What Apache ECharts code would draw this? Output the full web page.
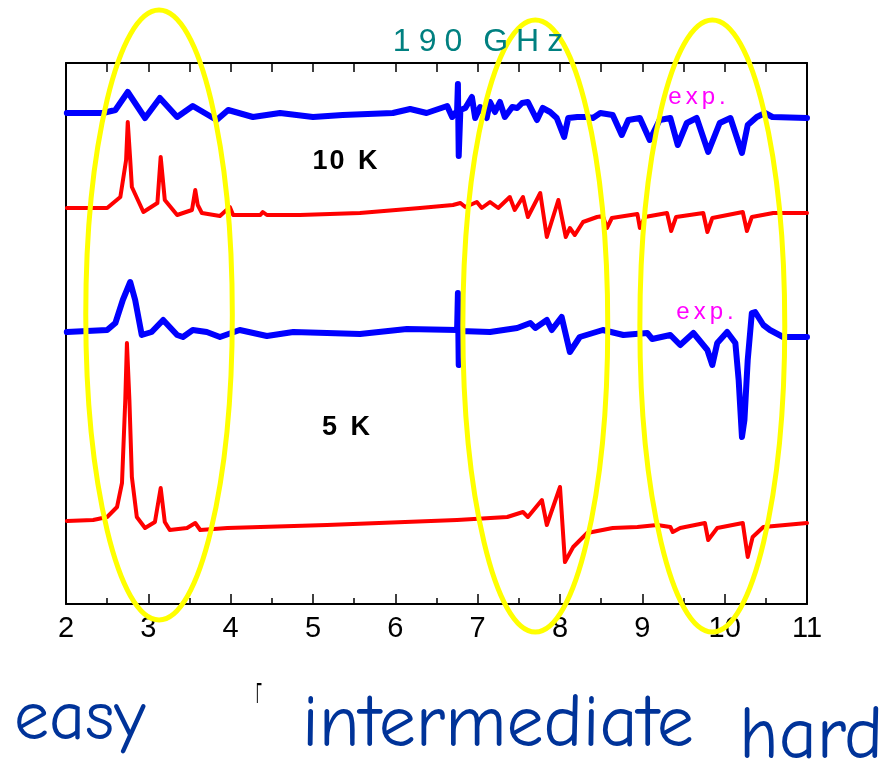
<!DOCTYPE html>
<html>
<head>
<meta charset="utf-8">
<script src="https://cdn.jsdelivr.net/npm/echarts@6/dist/echarts.min.js"></script>
<style>html,body{margin:0;padding:0;background:#fff}#c{width:888px;height:762px}</style>
</head>
<body>
<div id="c"></div>
<script>
// Magnetic field (T) on x; signal (arb. u., offset traces) on y
const xTicks = [2, 3, 4, 5, 6, 7, 8, 9, 10, 11];

const blue10K = [[2.01,4.91],[2.45,4.91],[2.60,4.94],[2.75,5.12],[2.96,4.86],[3.14,5.06],[3.35,4.87],[3.54,4.98],[3.83,4.84],[3.97,4.94],[4.27,4.87],[4.60,4.91],[5.00,4.87],[5.36,4.89],[5.97,4.91],[6.18,4.95],[6.38,4.91],[6.63,4.98],[6.69,4.87],[6.75,4.93],[6.76,5.20],[6.77,4.48],[6.79,4.94],[6.85,4.96],[6.93,5.07],[6.97,4.86],[7.03,4.97],[7.11,4.86],[7.15,5.02],[7.21,4.92],[7.27,5.02],[7.33,4.87],[7.42,4.97],[7.48,4.96],[7.54,5.01],[7.61,5.02],[7.72,4.84],[7.79,4.96],[7.88,4.92],[7.96,4.86],[8.05,4.67],[8.10,4.86],[8.21,4.87],[8.33,4.87],[8.40,4.86],[8.49,4.91],[8.64,4.89],[8.75,4.69],[8.83,4.84],[8.97,4.86],[9.09,4.64],[9.21,4.84],[9.34,4.86],[9.43,4.59],[9.54,4.81],[9.66,4.86],[9.80,4.52],[9.94,4.81],[10.07,4.86],[10.21,4.51],[10.28,4.79],[10.39,4.87],[10.49,4.91],[10.58,4.87],[11.00,4.86]];

const red10K = [[2.01,3.96],[2.50,3.96],[2.66,4.07],[2.73,4.44],[2.75,4.82],[2.78,4.44],[2.80,4.17],[2.94,3.92],[3.11,4.01],[3.15,4.47],[3.20,4.04],[3.35,3.89],[3.53,3.94],[3.57,4.14],[3.60,3.99],[3.65,3.91],[3.87,3.88],[3.99,3.97],[4.03,3.89],[4.36,3.89],[4.39,3.92],[4.44,3.89],[4.84,3.89],[5.57,3.91],[6.30,3.96],[6.70,3.99],[6.79,4.01],[6.85,3.97],[6.99,4.02],[7.05,3.96],[7.15,4.02],[7.25,3.96],[7.39,4.07],[7.45,3.94],[7.55,4.07],[7.61,3.87],[7.76,4.11],[7.84,3.67],[7.98,4.04],[8.07,3.67],[8.12,3.76],[8.18,3.69],[8.28,3.82],[8.45,3.87],[8.52,3.88],[8.57,3.76],[8.63,3.86],[8.94,3.90],[8.97,3.76],[9.03,3.87],[9.30,3.91],[9.35,3.73],[9.41,3.87],[9.74,3.91],[9.79,3.72],[9.85,3.86],[10.22,3.92],[10.27,3.73],[10.33,3.87],[10.59,3.91],[11.00,3.91]];

const blue5K = [[2.01,2.72],[2.50,2.74],[2.60,2.81],[2.69,3.04],[2.78,3.22],[2.84,3.04],[2.92,2.69],[3.04,2.72],[3.18,2.84],[3.35,2.69],[3.42,2.67],[3.54,2.74],[3.71,2.72],[3.87,2.67],[4.11,2.74],[4.44,2.68],[4.76,2.72],[5.17,2.71],[5.57,2.70],[6.14,2.75],[6.75,2.74],[6.76,3.11],[6.77,2.39],[6.79,2.73],[7.15,2.72],[7.48,2.76],[7.64,2.81],[7.70,2.76],[7.84,2.84],[7.90,2.74],[8.02,2.87],[8.12,2.52],[8.24,2.67],[8.52,2.74],[8.77,2.69],[9.06,2.71],[9.12,2.65],[9.34,2.69],[9.46,2.59],[9.62,2.71],[9.79,2.54],[9.85,2.39],[9.91,2.61],[10.03,2.72],[10.13,2.61],[10.17,2.24],[10.21,1.67],[10.24,1.84],[10.28,2.44],[10.33,2.91],[10.37,2.92],[10.47,2.79],[10.55,2.74],[10.71,2.67],[11.00,2.67]];

const red5K = [[2.01,0.83],[2.33,0.84],[2.50,0.87],[2.62,0.97],[2.68,1.21],[2.72,2.04],[2.74,2.61],[2.77,2.04],[2.80,1.27],[2.86,0.87],[2.96,0.76],[3.08,0.82],[3.15,1.16],[3.20,0.82],[3.26,0.74],[3.47,0.76],[3.57,0.81],[3.63,0.74],[3.96,0.76],[5.17,0.79],[6.75,0.84],[7.36,0.87],[7.55,0.92],[7.61,0.87],[7.78,1.04],[7.84,0.79],[8.00,1.17],[8.06,0.42],[8.16,0.57],[8.33,0.71],[8.64,0.76],[8.94,0.77],[9.18,0.79],[9.34,0.77],[9.37,0.72],[9.46,0.76],[9.76,0.81],[9.80,0.64],[9.91,0.76],[10.22,0.81],[10.28,0.47],[10.34,0.67],[10.47,0.77],[11.00,0.81]];

// highlighted field regions (center x, center y, half-width, half-height in data units)
const regionNames = ['easy', 'intermediate', 'hard'];
const regionEllipses = [[3.13, 2.89, 0.89, 3.05], [7.70, 2.78, 0.88, 3.06], [9.85, 2.78, 0.88, 3.06]];

const chart = echarts.init(document.getElementById('c'), null, {renderer: 'canvas'});

function spaced(s, cls) {
  return s.split('').map(c => c === ' ' ? '{' + cls + 's| }' : '{' + cls + '|' + c + '}').join('');
}

const lineSeries = (data, color, width) => ({
  type: 'line', data: data, showSymbol: false, symbol: 'none', smooth: false,
  lineStyle: {color: color, width: width, cap: 'round', join: 'round'},
  z: 3, silent: true
});

chart.setOption({
  animation: false,
  backgroundColor: '#ffffff',
  grid: {left: 66, right: 81, top: 63, bottom: 158, containLabel: false},
  xAxis: [{
    type: 'value', min: 2, max: 11, interval: 1, position: 'bottom',
    axisLine: {show: true, onZero: false, lineStyle: {color: '#000', width: 2}},
    axisTick: {show: true, inside: true, length: 10, lineStyle: {color: '#000', width: 1.5}},
    minorTick: {show: true, splitNumber: 2, length: 6, lineStyle: {color: '#000', width: 1.5}},
    splitLine: {show: false},
    axisLabel: {show: true, color: '#000', fontSize: 29, fontFamily: 'Liberation Sans', margin: 10,
      formatter: v => xTicks.indexOf(v) >= 0 ? String(v) : ''}
  }, {
    type: 'value', min: 2, max: 11, interval: 0.5, position: 'top',
    axisLine: {show: true, onZero: false, lineStyle: {color: '#000', width: 2}},
    axisTick: {show: true, inside: true, length: 9, lineStyle: {color: '#000', width: 1.5}},
    splitLine: {show: false}, axisLabel: {show: false}
  }],
  yAxis: [{
    type: 'value', min: 0, max: 5.41, position: 'left',
    axisLine: {show: true, onZero: false, lineStyle: {color: '#000', width: 2}},
    axisTick: {show: false}, axisLabel: {show: false}, splitLine: {show: false}
  }, {
    type: 'value', min: 0, max: 5.41, position: 'right',
    axisLine: {show: true, onZero: false, lineStyle: {color: '#000', width: 2}},
    axisTick: {show: false}, axisLabel: {show: false}, splitLine: {show: false}
  }],
  series: [
    lineSeries(blue10K, '#0000ff', 6),
    lineSeries(red10K, '#ff0000', 4),
    lineSeries(blue5K, '#0000ff', 6),
    lineSeries(red5K, '#ff0000', 4)
  ]
});

// annotations
const g = [];
regionEllipses.forEach(e => {
  const c = chart.convertToPixel({gridIndex: 0}, [e[0], e[1]]);
  const p = chart.convertToPixel({gridIndex: 0}, [e[0] + e[2], e[1] + e[3]]);
  g.push({type: 'ellipse', z: 100, silent: true,
    shape: {cx: c[0], cy: c[1], rx: Math.abs(p[0] - c[0]), ry: Math.abs(c[1] - p[1])},
    style: {fill: 'none', stroke: '#ffff00', lineWidth: 5}});
});

function txt(x, y, text, rich, align) {
  return {type: 'text', z: 110, silent: true, x: x, y: y,
    style: {text: text, rich: rich, align: align || 'center', verticalAlign: 'middle'}};
}
const titleRich = {
  t: {fontSize: 32, fontFamily: 'Liberation Sans', fill: '#008080', padding: [0, 4]},
  ts: {fontSize: 32, fontFamily: 'Liberation Sans', fill: '#008080', padding: [0, 2]}
};
g.push(txt(478, 42, spaced('190 GHz', 't'), titleRich));

const kRich = {
  k: {fontSize: 27, fontFamily: 'Liberation Sans', fontWeight: 'bold', fill: '#000', padding: [0, 1]},
  ks: {fontSize: 27, fontFamily: 'Liberation Sans', fontWeight: 'bold', fill: '#000', padding: [0, 2]}
};
g.push(txt(345, 162, spaced('10 K', 'k'), kRich));
g.push(txt(346, 428, spaced('5 K', 'k'), kRich));

const eRich = {
  e: {fontSize: 24, fontFamily: 'Liberation Sans', fill: '#ff00ff', padding: [0, 2]},
  es: {fontSize: 24, fontFamily: 'Liberation Sans', fill: '#ff00ff', padding: [0, 2]}
};
g.push(txt(697, 97, spaced('exp.', 'e'), eRich));
g.push(txt(705, 312, spaced('exp.', 'e'), eRich));

const bFont = '"Comic Sans MS","Comic Neue","DejaVu Sans",sans-serif';
function bottomText(x, yMid, s, size) {
  return {type: 'text', z: 110, silent: true, x: x, y: yMid,
    style: {text: s, font: size + 'px ' + bFont, fill: '#003399', align: 'left', verticalAlign: 'middle'}};
}
g.push(bottomText(14, 719, regionNames[0], 70));
g.push(bottomText(302, 725, regionNames[1], 74));
g.push(bottomText(739, 737, regionNames[2], 74));
g.push({type: 'text', z: 110, silent: true, x: 256, y: 695, scaleX: 0.35,
  style: {text: 'Γ', font: '30px "Liberation Sans"', fill: '#000', align: 'left', verticalAlign: 'middle'}});

chart.setOption({graphic: g});
</script>
</body>
</html>
